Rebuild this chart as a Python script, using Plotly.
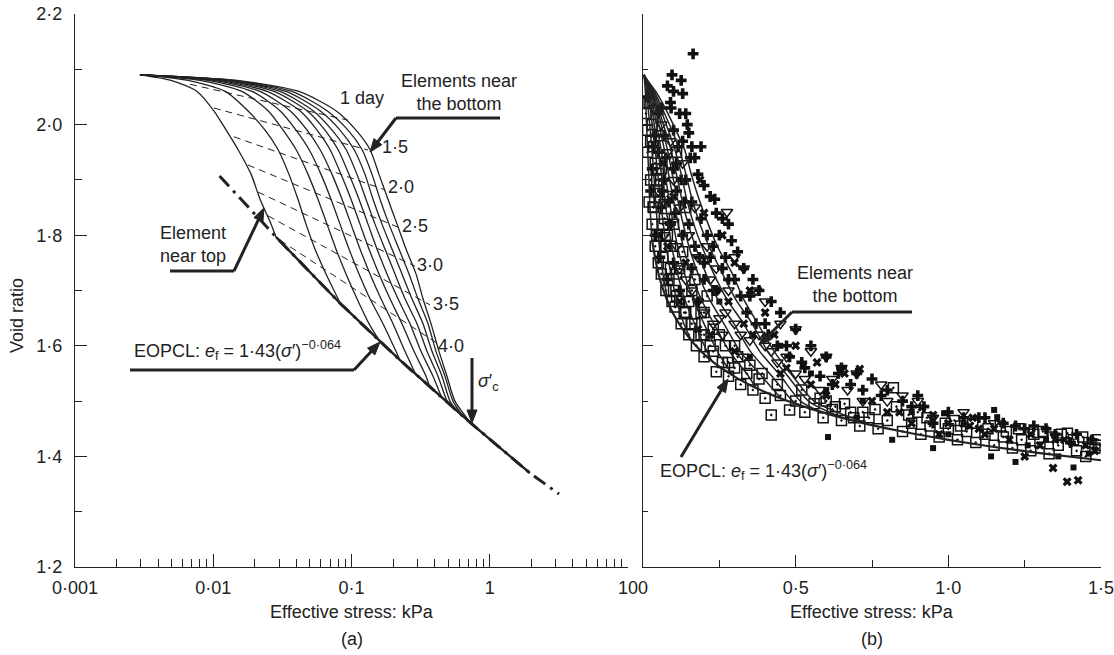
import math
import plotly.graph_objects as go

W, H = 1114, 655
FONT = "Liberation Sans, Arial, sans-serif"
INK = "#222222"

# ---------------- data ----------------
# void-ratio levels shared by the element curves
E_LEVELS = [2.09, 2.08, 2.06, 2.025, 1.99, 1.955, 1.91, 1.865, 1.82, 1.775,
            1.73, 1.685, 1.64, 1.59, 1.545, 1.50]

# effective stress (kPa) of each element curve at the levels above
C1_S = [0.00295, 0.00495, 0.00763, 0.0101, 0.0124, 0.0151, 0.0188, 0.0218, 0.0262]
C2_S = [0.00295, 0.00657, 0.0122, 0.0178, 0.0237, 0.0294, 0.0353, 0.0410, 0.0469,
        0.0544, 0.0654, 0.0799]
C3_S = [0.00295, 0.00802, 0.0161, 0.0249, 0.0320, 0.0397, 0.0485, 0.0572, 0.0665,
        0.0772, 0.0913, 0.1096, 0.1338]
C4_S = [0.00295, 0.00916, 0.0191, 0.0304, 0.0397, 0.0493, 0.0602, 0.0711, 0.0826,
        0.0959, 0.1133, 0.1361, 0.1690, 0.2098]
C5_S = [0.00295, 0.0101, 0.0218, 0.0359, 0.0477, 0.0592, 0.0723, 0.0854, 0.0992,
        0.1152, 0.1361, 0.1634, 0.1996, 0.2438]
C6_S = [0.00295, 0.0110, 0.0245, 0.0424, 0.0563, 0.0699, 0.0840, 0.0992, 0.1152,
        0.1338, 0.1581, 0.1899, 0.2319, 0.2832, 0.3458]
C7_S = [0.00295, 0.0120, 0.0275, 0.0477, 0.0643, 0.0799, 0.0959, 0.1133, 0.1316,
        0.1529, 0.1806, 0.2169, 0.2649, 0.3182, 0.3886]
C8_S = [0.00295, 0.0128, 0.0304, 0.0527, 0.0723, 0.0913, 0.1096, 0.1273, 0.1479,
        0.1747, 0.2064, 0.2438, 0.2977, 0.3517, 0.4224, 0.4906]
C9_S = [0.00295, 0.0134, 0.0336, 0.0592, 0.0826, 0.1043, 0.1252, 0.1431, 0.1662,
        0.1963, 0.2319, 0.2739, 0.3290, 0.3822, 0.4514, 0.5156]
C10_S = [0.00295, 0.0141, 0.0371, 0.0665, 0.0943, 0.1191, 0.1407, 0.1608, 0.1867,
         0.2206, 0.2606, 0.3027, 0.3575, 0.4085, 0.4746, 0.5420]
C11_S = [0.00295, 0.0149, 0.0417, 0.0772, 0.1078, 0.1361, 0.1581, 0.1836, 0.2134,
         0.2479, 0.2928, 0.3290, 0.3759, 0.4294, 0.4906, 0.5603]
CURVES_S = [C1_S, C2_S, C3_S, C4_S, C5_S, C6_S, C7_S, C8_S, C9_S, C10_S, C11_S]

# point where each element curve meets the EOPCL
JOIN_S = [0.0284, 0.0826, 0.1581, 0.2243, 0.2928, 0.3697, 0.4514, 0.5156, 0.5890, 0.6510, 0.7312]
JOIN_E = [1.797, 1.677, 1.610, 1.574, 1.547, 1.524, 1.505, 1.492, 1.479, 1.470, 1.460]

# EOPCL line, panel (a)
EOPCL_A_S = [0.0111, 0.0284, 0.0826, 0.2243, 0.7312, 1.95, 3.17]
EOPCL_A_E = [1.907, 1.797, 1.677, 1.574, 1.460, 1.370, 1.332]
# EOPCL curve, panel (b)
EOPCL_B_S = [0.03, 0.045, 0.06, 0.08, 0.1, 0.13, 0.17, 0.22, 0.28, 0.35, 0.45, 0.55,
             0.7, 0.85, 1.0, 1.15, 1.3, 1.5]
EOPCL_B_E = [1.790, 1.744, 1.712, 1.681, 1.657, 1.630, 1.602, 1.575, 1.551, 1.529,
             1.505, 1.486, 1.463, 1.445, 1.430, 1.417, 1.406, 1.393]

# isochrones (dashed), from left end to right end
ISO_LABELS = ["1 day", "1·5", "2·0", "2·5", "3·0", "3·5", "4·0"]
ISO_S0 = [0.00679, 0.0101, 0.0141, 0.0178, 0.0211, 0.0249, 0.0304]
ISO_E0 = [2.073, 2.030, 1.978, 1.927, 1.878, 1.835, 1.791]
ISO_S1 = [0.0943, 0.1316, 0.1747, 0.2243, 0.2881, 0.3697, 0.444]
ISO_E1 = [2.008, 1.954, 1.882, 1.813, 1.744, 1.674, 1.600]

# measured points, panel (b)
PL_S = [0.164, 0.095, 0.125, 0.08, 0.1, 0.13, 0.09, 0.092, 0.12, 0.14, 0.145, 0.15, 0.13,
        0.16, 0.19, 0.17, 0.155, 0.18, 0.2, 0.22, 0.235, 0.24, 0.26, 0.28, 0.25, 0.29, 0.31,
        0.27, 0.33, 0.36, 0.30, 0.38, 0.42, 0.35, 0.45, 0.40, 0.50, 0.47, 0.55, 0.60, 0.52,
        0.65, 0.70, 0.75, 0.62, 0.80, 0.9, 0.05, 0.07, 0.06, 0.11, 0.09, 0.13, 0.10, 0.16,
        0.20, 0.12, 0.18, 0.23, 0.03, 0.04, 0.055, 0.08, 1.0, 1.1, 1.25, 1.35, 0.95,
        0.06, 0.07, 0.1, 0.11, 0.14, 0.16, 0.19, 0.21, 0.23, 0.26, 0.28, 0.32, 0.34, 0.37,
        0.41, 0.44, 0.48, 0.53, 0.58, 0.68, 0.72, 0.85, 0.88, 1.05, 1.18, 1.28, 1.42, 1.47,
        0.015, 0.025, 0.035,
        0.04, 0.05, 0.065, 0.075, 0.085, 0.1, 0.105, 0.115, 0.125, 0.135, 0.15, 0.17,
        0.185, 0.2, 0.22, 0.24, 0.92, 1.12, 1.22, 1.32, 1.4, 0.78, 0.64]
PL_E = [2.128, 2.09, 2.08, 2.07, 2.06, 2.056, 2.04, 2.03, 2.02, 2.02, 2.00, 1.985, 1.97,
        1.96, 1.96, 1.94, 1.94, 1.91, 1.89, 1.87, 1.865, 1.84, 1.83, 1.82, 1.80, 1.79, 1.77,
        1.76, 1.74, 1.72, 1.72, 1.70, 1.68, 1.69, 1.66, 1.64, 1.63, 1.60, 1.60, 1.58, 1.57,
        1.56, 1.55, 1.54, 1.53, 1.52, 1.51, 1.95, 1.90, 1.85, 1.88, 1.82, 1.80, 1.75, 1.74,
        1.75, 1.70, 1.68, 1.70, 1.92, 1.80, 1.76, 1.72, 1.48, 1.47, 1.45, 1.44, 1.46,
        2.03, 1.98, 1.99, 1.93, 1.90, 1.86, 1.83, 1.80, 1.78, 1.74, 1.72, 1.69, 1.66, 1.64,
        1.62, 1.60, 1.58, 1.56, 1.545, 1.53, 1.52, 1.50, 1.49, 1.47, 1.46, 1.455, 1.44, 1.43,
        2.05, 1.88, 1.96,
        1.98, 2.02, 1.88, 1.94, 1.86, 1.92, 1.84, 1.96, 1.90, 1.86, 1.82, 1.78,
        1.76, 1.72, 1.76, 1.70, 1.49, 1.47, 1.455, 1.45, 1.425, 1.51, 1.55]

X_S = [0.187, 0.26, 0.30, 0.35, 0.40, 0.43, 0.50, 0.57, 0.66, 0.71, 0.914, 1.08, 1.10,
       1.20, 1.30, 1.343, 1.389, 1.425, 0.14, 0.08, 0.22, 0.30, 0.45, 0.60, 0.80, 1.0,
       1.45, 0.05, 0.12, 0.18, 0.97, 1.25, 0.24, 0.33, 0.55, 0.75, 1.15, 1.38,
       0.2, 0.28, 0.36, 0.47, 0.63, 0.84, 1.12, 1.35, 0.1, 0.065,
       0.95, 1.07, 1.27, 1.48, 0.88]
X_E = [1.90, 1.80, 1.75, 1.70, 1.66, 1.62, 1.60, 1.57, 1.55, 1.558, 1.489, 1.47, 1.45,
       1.43, 1.42, 1.379, 1.354, 1.357, 1.75, 1.78, 1.62, 1.59, 1.55, 1.51, 1.48, 1.46,
       1.42, 1.80, 1.68, 1.63, 1.44, 1.40, 1.70, 1.64, 1.53, 1.50, 1.45, 1.43,
       1.84, 1.68, 1.62, 1.56, 1.53, 1.48, 1.44, 1.43, 1.87, 1.93,
       1.475, 1.455, 1.44, 1.41, 1.46]

TR_S = [0.275, 0.37, 0.33, 0.40, 0.45, 0.50, 0.55, 0.60, 0.65, 0.70, 0.78, 0.85, 0.90,
        0.28, 0.22, 0.18, 0.15, 0.12, 0.10, 0.08, 0.06, 0.20, 0.32, 0.25, 0.42, 0.50, 0.62,
        0.05, 0.07, 0.16, 1.05, 1.15, 0.95, 0.30, 0.47, 0.58, 0.72, 0.38,
        0.13, 0.17, 0.21, 0.24, 0.27, 0.35, 0.44, 0.53, 0.67, 0.8, 0.09, 0.11, 0.035,
        0.07, 0.09, 0.12, 0.14, 0.18, 0.23, 0.26, 0.3, 0.4, 0.33]
TR_E = [1.842, 1.70, 1.74, 1.68, 1.64, 1.63, 1.59, 1.58, 1.56, 1.55, 1.53, 1.51, 1.50,
        1.70, 1.72, 1.76, 1.80, 1.85, 1.90, 1.95, 2.00, 1.66, 1.62, 1.65, 1.59, 1.55, 1.54,
        1.88, 1.80, 1.70, 1.48, 1.46, 1.47, 1.76, 1.58, 1.52, 1.50, 1.62,
        1.93, 1.85, 1.78, 1.74, 1.66, 1.61, 1.57, 1.54, 1.52, 1.50, 1.97, 1.78, 2.03,
        1.86, 1.82, 1.74, 1.72, 1.68, 1.64, 1.62, 1.64, 1.60, 1.58]

SQ_S = [0.015, 0.02, 0.025, 0.03, 0.035, 0.04, 0.045, 0.05, 0.06, 0.065, 0.075, 0.085,
        0.095, 0.105, 0.11, 0.125, 0.135, 0.15, 0.16, 0.175, 0.19, 0.2, 0.22, 0.24, 0.26,
        0.28, 0.3, 0.32, 0.34, 0.36, 0.38, 0.4, 0.42, 0.45, 0.48, 0.5, 0.53, 0.56, 0.59,
        0.62, 0.65, 0.68, 0.71, 0.74, 0.77, 0.8, 0.82, 0.85, 0.88, 0.91, 0.94, 0.97, 1.0,
        1.03, 1.06, 1.09, 1.12, 1.15, 1.18, 1.21, 1.24, 1.27, 1.3, 1.33, 1.36, 1.39, 1.42,
        1.45, 1.48, 0.05, 0.08, 0.12, 0.16, 0.2, 0.25, 0.3, 0.11, 0.14, 0.033, 0.056,
        0.01, 0.015, 0.02, 0.025, 0.03, 0.04, 0.045, 0.055, 0.06, 0.07, 0.08, 0.09, 0.1,
        0.11, 0.13, 0.15, 0.17, 0.19, 0.21, 0.23, 0.27, 0.31, 0.35, 0.39, 0.44, 0.52, 0.58,
        0.66, 0.72, 0.9, 1.02, 1.17, 1.31, 1.44, 1.49,
        0.83, 0.87, 0.93, 0.99, 1.04, 1.08, 1.13, 1.19, 1.23, 1.28, 1.34, 1.37, 1.41, 1.46,
        1.5, 0.6, 0.63, 0.69, 0.76,
        0.035, 0.05, 0.065, 0.075, 0.09, 0.1, 0.12, 0.14, 0.17, 0.2, 0.23, 0.28]
SQ_E = [1.95, 1.86, 1.90, 1.82, 1.85, 1.78, 1.80, 1.75, 1.73, 1.76, 1.70, 1.72,
        1.68, 1.67, 1.69, 1.64, 1.66, 1.62, 1.64, 1.60, 1.62, 1.58, 1.60, 1.553, 1.57,
        1.545, 1.56, 1.53, 1.55, 1.52, 1.54, 1.505, 1.475, 1.51, 1.484, 1.50, 1.48, 1.495, 1.47,
        1.485, 1.465, 1.48, 1.455, 1.47, 1.45, 1.465, 1.524, 1.445, 1.46, 1.44, 1.455, 1.435, 1.45,
        1.43, 1.445, 1.425, 1.44, 1.42, 1.435, 1.415, 1.43, 1.41, 1.425, 1.405, 1.42, 1.442, 1.41,
        1.40, 1.415, 1.88, 1.80, 1.74, 1.70, 1.66, 1.62, 1.60, 1.95, 1.85, 1.851, 1.98,
        2.02, 1.99, 2.04, 1.97, 2.00, 1.93, 1.90, 1.86, 1.92, 1.83, 1.87, 1.78, 1.82,
        1.73, 1.77, 1.68, 1.72, 1.66, 1.69, 1.63, 1.60, 1.58, 1.565, 1.55, 1.53, 1.52, 1.505,
        1.495, 1.48, 1.48, 1.465, 1.455, 1.445, 1.435, 1.43,
        1.49, 1.475, 1.47, 1.46, 1.455, 1.46, 1.45, 1.445, 1.45, 1.44, 1.435, 1.44, 1.43, 1.425,
        1.42, 1.50, 1.49, 1.47, 1.485,
        1.96, 1.92, 1.82, 1.78, 1.74, 1.70, 1.68, 1.66, 1.64, 1.62, 1.59, 1.57]

FS_S = [0.95, 0.986, 1.15, 1.16, 0.816, 0.606, 1.41, 1.22, 1.14, 0.35, 0.55, 0.72, 1.05,
        1.32, 0.25, 0.45, 0.88, 1.0, 1.26, 1.36, 1.46, 0.7, 0.6]
FS_E = [1.415, 1.478, 1.484, 1.471, 1.43, 1.435, 1.38, 1.39, 1.40, 1.58, 1.55, 1.50, 1.46,
        1.43, 1.68, 1.60, 1.48, 1.44, 1.42, 1.40, 1.405, 1.47, 1.52]

# tick labels
A_TICKS = [0.001, 0.01, 0.1, 1, 10]
A_TICKTEXT = ["0·001", "0·01", "0·1", "1", "10"]
B_TICKS = [0, 0.5, 1.0, 1.5]
B_TICKTEXT = ["0", "0·5", "1·0", "1·5"]
Y_TICKS = [1.2, 1.4, 1.6, 1.8, 2.0, 2.2]
Y_TICKTEXT = ["1·2", "1·4", "1·6", "1·8", "2·0", "2·2"]

# ---------------- figure ----------------
fig = go.Figure()

# panel (a): element curves
for s, js, je in zip(CURVES_S, JOIN_S, JOIN_E):
    fig.add_trace(go.Scatter(x=s + [js], y=E_LEVELS[:len(s)] + [je], mode="lines",
                             line=dict(color=INK, width=1.3, shape="spline", smoothing=0.7),
                             xaxis="x", yaxis="y", hoverinfo="skip"))
# isochrones
for s0, e0, s1, e1 in zip(ISO_S0, ISO_E0, ISO_S1, ISO_E1):
    fig.add_trace(go.Scatter(x=[s0, s1], y=[e0, e1], mode="lines",
                             line=dict(color=INK, width=1, dash="7px,5px"),
                             xaxis="x", yaxis="y", hoverinfo="skip"))
# EOPCL dash-dot and solid part
fig.add_trace(go.Scatter(x=EOPCL_A_S, y=EOPCL_A_E, mode="lines",
                         line=dict(color=INK, width=3, dash="14px,6px,3px,6px"),
                         xaxis="x", yaxis="y", hoverinfo="skip"))
fig.add_trace(go.Scatter(x=EOPCL_A_S[1:6], y=EOPCL_A_E[1:6], mode="lines",
                         line=dict(color=INK, width=2.4),
                         xaxis="x", yaxis="y", hoverinfo="skip"))

# panel (b): measured points
mk_line = dict(color="#111111", width=1.5)
fig.add_trace(go.Scatter(x=SQ_S, y=SQ_E, mode="markers", xaxis="x2", yaxis="y2",
                         marker=dict(symbol="square-open-dot", size=10, color="#111111", line=mk_line)))
fig.add_trace(go.Scatter(x=TR_S, y=TR_E, mode="markers", xaxis="x2", yaxis="y2",
                         marker=dict(symbol="triangle-down-open", size=10, color="#111111", line=mk_line)))
fig.add_trace(go.Scatter(x=PL_S, y=PL_E, mode="markers", xaxis="x2", yaxis="y2",
                         marker=dict(symbol="cross", size=9, color="#111111")))
fig.add_trace(go.Scatter(x=X_S, y=X_E, mode="markers", xaxis="x2", yaxis="y2",
                         marker=dict(symbol="x", size=8, color="#111111")))
fig.add_trace(go.Scatter(x=FS_S, y=FS_E, mode="markers", xaxis="x2", yaxis="y2",
                         marker=dict(symbol="square", size=6, color="#111111")))
# panel (b): element curves and EOPCL
for s, js, je in zip(CURVES_S, JOIN_S, JOIN_E):
    fig.add_trace(go.Scatter(x=s + [js], y=E_LEVELS[:len(s)] + [je], mode="lines",
                             line=dict(color=INK, width=1.5, shape="spline", smoothing=0.7),
                             xaxis="x2", yaxis="y2", hoverinfo="skip"))
fig.add_trace(go.Scatter(x=EOPCL_B_S, y=EOPCL_B_E, mode="lines",
                         line=dict(color=INK, width=2.2, shape="spline", smoothing=0.6),
                         xaxis="x2", yaxis="y2", hoverinfo="skip"))

# ---------------- layout ----------------
def P(px, py):
    return px / W, 1 - py / H

FS = 18
tickfont = dict(family=FONT, size=FS, color=INK)
axis_common = dict(showline=True, linecolor=INK, linewidth=1.3, showgrid=False,
                   zeroline=False, ticks="inside", tickcolor=INK, tickwidth=1.2,
                   tickfont=tickfont, fixedrange=True, automargin=False)
ydom = [1 - 567 / H, 1 - 14 / H]
minor_log = [k * 10 ** p for p in range(-3, 1) for k in range(2, 10)]

fig.update_layout(
    width=W, height=H, margin=dict(l=0, r=0, t=0, b=0, autoexpand=False),
    paper_bgcolor="white", plot_bgcolor="white", showlegend=False,
    xaxis=dict(axis_common, type="log", range=[-3, 1], domain=[75 / W, 628 / W], anchor="y",
               tickvals=A_TICKS, ticktext=A_TICKTEXT, ticklen=13, ticklabelstandoff=4,
               ticklabeloverflow="allow",
               minor=dict(tickvals=minor_log, ticks="inside", ticklen=8, tickcolor=INK,
                          tickwidth=1.1, showgrid=False)),
    yaxis=dict(axis_common, range=[1.2, 2.2], domain=ydom, anchor="x",
               tickvals=Y_TICKS, ticktext=Y_TICKTEXT, ticklen=12, ticklabelstandoff=8,
               minor=dict(dtick=0.1, tick0=1.2, ticks="inside", ticklen=7, tickcolor=INK,
                          tickwidth=1.1, showgrid=False)),
    xaxis2=dict(axis_common, range=[0, 1.5], domain=[643 / W, 1101 / W], anchor="y2",
                tickvals=B_TICKS, ticktext=B_TICKTEXT, ticklen=12, ticklabelstandoff=4,
                ticklabeloverflow="allow",
                minor=dict(tickvals=[0.25, 0.75, 1.25], ticks="inside", ticklen=7,
                           tickcolor=INK, tickwidth=1.1, showgrid=False)),
    yaxis2=dict(axis_common, range=[1.2, 2.2], domain=ydom, anchor="x2",
                tickvals=Y_TICKS, showticklabels=False, ticklen=10,
                minor=dict(dtick=0.1, tick0=1.2, ticks="inside", ticklen=5, tickcolor=INK,
                           tickwidth=1.1, showgrid=False)),
)

annots = []
shapes = []

def text(px, py, t, size=FS, xanchor="center", angle=0):
    x, y = P(px, py)
    annots.append(dict(x=x, y=y, xref="paper", yref="paper", text=t, showarrow=False,
                       xanchor=xanchor, yanchor="middle", textangle=angle,
                       font=dict(family=FONT, size=size, color=INK)))

def seg(x0, y0, x1, y1, width=3):
    a0, b0 = P(x0, y0)
    a1, b1 = P(x1, y1)
    shapes.append(dict(type="line", xref="paper", yref="paper", x0=a0, x1=a1, y0=b0, y1=b1,
                       line=dict(color=INK, width=width)))

def arrow(tipx, tipy, tailx, taily, width=3, head=13, half=5):
    dx, dy = tipx - tailx, tipy - taily
    L = math.hypot(dx, dy)
    ux, uy = dx / L, dy / L
    bx, by = tipx - ux * head, tipy - uy * head
    nx, ny = -uy, ux
    seg(tailx, taily, bx + ux * 1, by + uy * 1, width)
    pts = [P(tipx, tipy), P(bx + nx * half, by + ny * half), P(bx - nx * half, by - ny * half)]
    path = "M {:.5f},{:.5f} L {:.5f},{:.5f} L {:.5f},{:.5f} Z".format(*pts[0], *pts[1], *pts[2])
    shapes.append(dict(type="path", xref="paper", yref="paper", path=path,
                       fillcolor=INK, line=dict(color=INK, width=1)))

# axis titles and panel labels
text(351.5, 612, "Effective stress: kPa")
text(872, 612, "Effective stress: kPa")
text(352, 639, "(a)")
text(872, 639, "(b)")
text(17, 316, "Void ratio", angle=-90)

# isochrone labels
for lab, (px, py) in zip(ISO_LABELS, [(362, 98), (395, 147), (401, 187), (415, 226),
                                      (430, 265), (446, 304), (451, 346)]):
    text(px, py, lab)

EQ = 'EOPCL: <i>e</i><sub>f</sub> = 1·43(<i>σ</i>′)<sup>−0·064</sup>'

# panel (a) callouts
text(459, 92, "Elements near<br>the bottom")
seg(396, 118, 500, 118)
arrow(370, 152, 396, 118)
text(193, 244, "Element<br>near top")
seg(170, 271, 234, 271)
arrow(264, 208, 234, 271)
text(132, 350, EQ, xanchor="left")
seg(130, 370, 354, 370)
arrow(380, 342, 354, 370)
arrow(472, 423, 472, 358)
text(488, 383, "<i>σ</i>′<sub>c</sub>")

# panel (b) callouts
text(855, 285, "Elements near<br>the bottom")
seg(792, 312, 912, 312)
arrow(759, 345, 792, 312)
text(658, 470, EQ, xanchor="left")
arrow(728, 379, 681, 457)

fig.update_layout(annotations=annots, shapes=shapes)
fig.write_html("out.html")
